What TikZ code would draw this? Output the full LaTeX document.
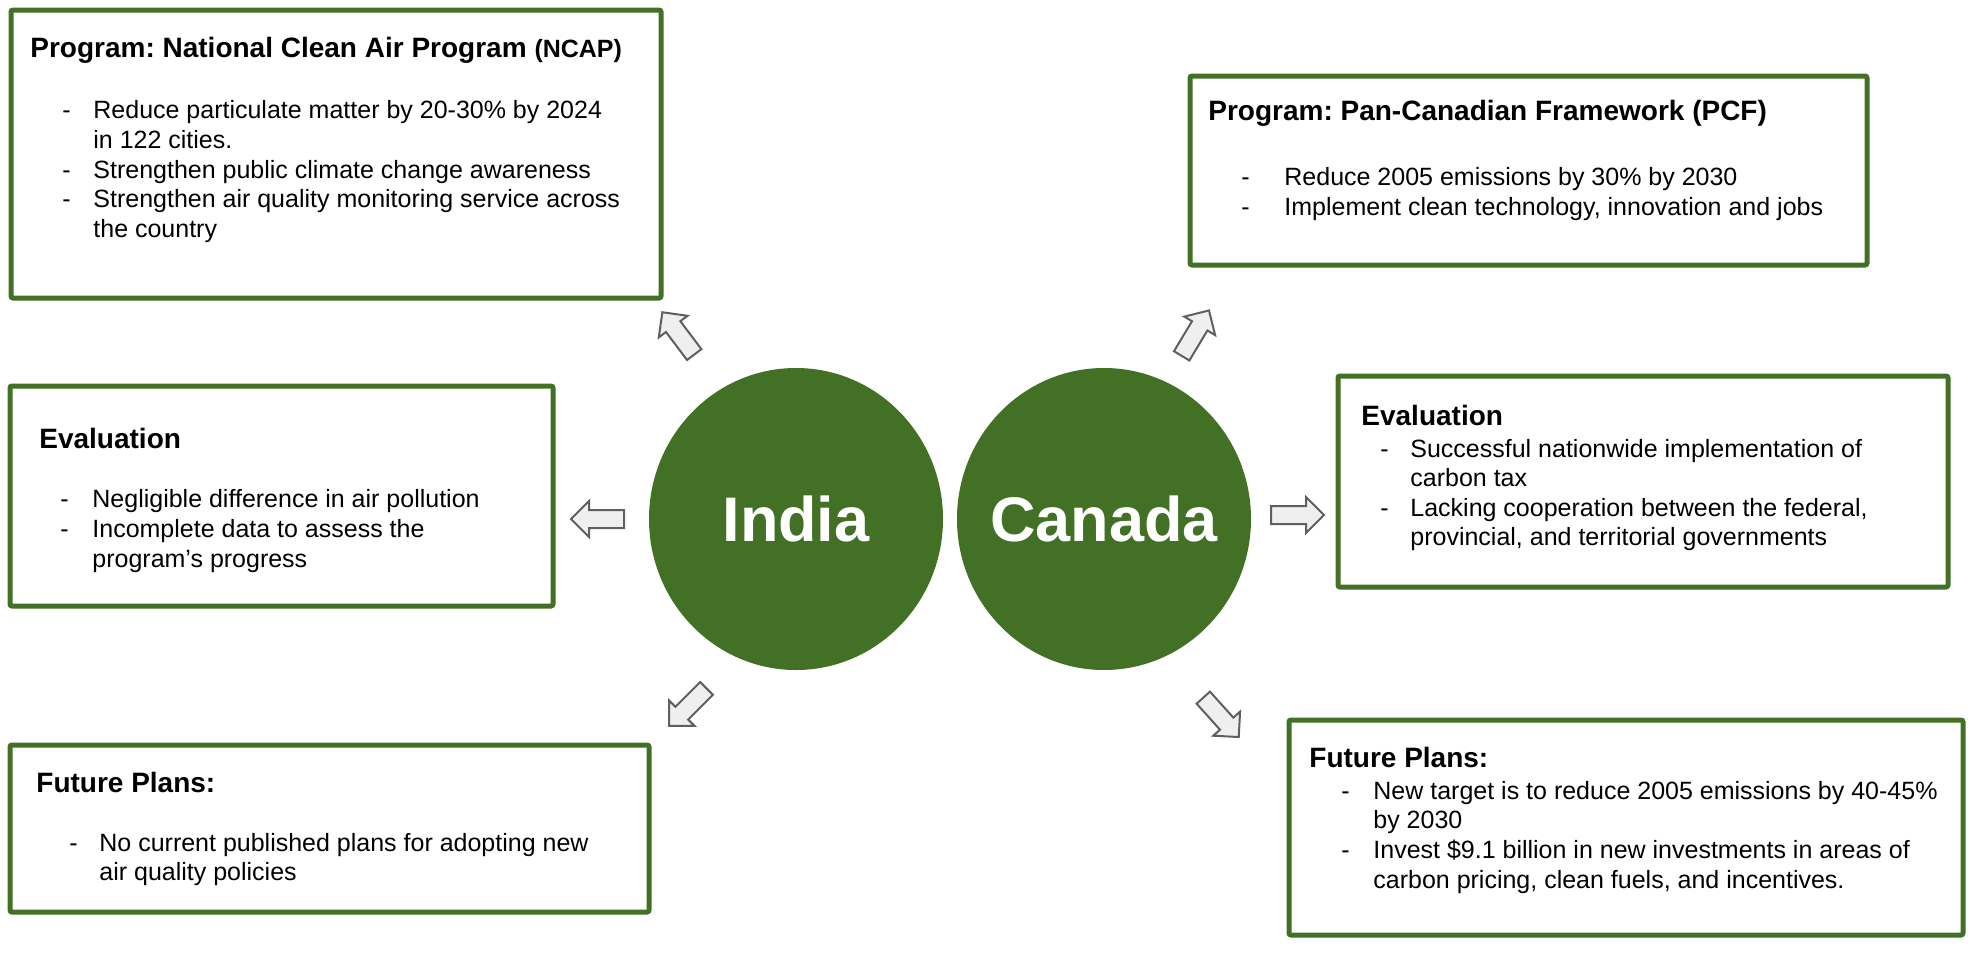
\documentclass[tikz,border=0pt]{standalone}
\usepackage{fontspec}
\setmainfont{Liberation Sans}
\usetikzlibrary{shapes.geometric,shapes.arrows,fit}
\definecolor{dkgreen}{RGB}{66,112,36}
\definecolor{arrfill}{RGB}{239,239,239}
\definecolor{arrline}{RGB}{95,95,95}
\frenchspacing
\begin{document}
\begin{tikzpicture}[x=0.5pt,y=-0.5pt,
 box/.style={draw=dkgreen, line width=2.5pt, rounded corners=1pt, inner sep=0pt},
 country/.style={ellipse, fill=dkgreen, minimum width=147pt, minimum height=151pt, inner sep=0pt},
 countryname/.style={text=white, inner sep=0pt, font=\fontsize{31.5}{36}\selectfont\bfseries},
 blockarrow/.style={single arrow, draw=arrline, fill=arrfill, line width=1pt, minimum height=26.5pt, minimum width=17pt, single arrow head extend=4.5pt, inner xsep=0pt, inner ysep=4pt, text height=0pt, text depth=0pt},
 ttl/.style={anchor=base west, inner sep=0pt, font=\fontsize{14}{17}\selectfont\bfseries},
 txt/.style={anchor=base west, inner sep=0pt, font=\fontsize{12.5}{15}\selectfont},
]
\useasboundingbox (0,0) rectangle (1978,954);

% boxes
\coordinate (p1a) at (11,10);   \coordinate (p1b) at (661,298);
\coordinate (p2a) at (1190,76); \coordinate (p2b) at (1867,265);
\coordinate (p3a) at (10,386);  \coordinate (p3b) at (553,606);
\coordinate (p4a) at (1338,376);\coordinate (p4b) at (1948,587);
\coordinate (p5a) at (10,745);  \coordinate (p5b) at (649,912);
\coordinate (p6a) at (1289,720);\coordinate (p6b) at (1963,935);
\node[box, fit=(p1a)(p1b)] (b1) {};
\node[box, fit=(p2a)(p2b)] (b2) {};
\node[box, fit=(p3a)(p3b)] (b3) {};
\node[box, fit=(p4a)(p4b)] (b4) {};
\node[box, fit=(p5a)(p5b)] (b5) {};
\node[box, fit=(p6a)(p6b)] (b6) {};

% circles
\node[country] (india) at (796,519) {};
\node[countryname] (indiat) at (india.center) {India};
\node[country] (canada) at (1104,519) {};
\node[countryname] (canadat) at (canada.center) {Canada};

% block arrows
\node[blockarrow, rotate=127] (a1) at (681,337) {};
\node[blockarrow, rotate=180] (a2) at (602,519) {};
\node[blockarrow, rotate=225] (a3) at (691,704) {};
\node[blockarrow, rotate=59]  (a4) at (1193,337) {};
\node[blockarrow, rotate=0]   (a5) at (1293,515) {};
\node[blockarrow, rotate=-48] (a6) at (1218,714) {};

% box 1 text
\node[ttl] (t1) at (30,57) {Program: National Clean Air Program {\fontsize{12.5}{15}\selectfont (NCAP)}};
\node[txt] (d1a) at (62,118) {-};
\node[txt] (l1a) at (93,118) {Reduce particulate matter by 20-30\% by 2024};
\node[txt] (l1b) at (93,148) {in 122 cities.};
\node[txt] (d1c) at (62,178) {-};
\node[txt] (l1c) at (93,178) {Strengthen public climate change awareness};
\node[txt] (d1d) at (62,207) {-};
\node[txt] (l1d) at (93,207) {Strengthen air quality monitoring service across};
\node[txt] (l1e) at (93,237) {the country};

% box 2 text
\node[ttl] (t2) at (1208,120) {Program: Pan-Canadian Framework (PCF)};
\node[txt] (d2a) at (1241,185) {-};
\node[txt] (l2a) at (1284,185) {Reduce 2005 emissions by 30\% by 2030};
\node[txt] (d2b) at (1241,215) {-};
\node[txt] (l2b) at (1284,215) {Implement clean technology, innovation and jobs};

% box 3 text
\node[ttl] (t3) at (39,448) {Evaluation};
\node[txt] (d3a) at (60,507) {-};
\node[txt] (l3a) at (92,507) {Negligible difference in air pollution};
\node[txt] (d3b) at (60,537) {-};
\node[txt] (l3b) at (92,537) {Incomplete data to assess the};
\node[txt] (l3c) at (92,567) {program’s progress};

% box 4 text
\node[ttl] (t4) at (1361,425) {Evaluation};
\node[txt] (d4a) at (1380,457) {-};
\node[txt] (l4a) at (1410,457) {Successful nationwide implementation of};
\node[txt] (l4b) at (1410,486) {carbon tax};
\node[txt] (d4c) at (1380,516) {-};
\node[txt] (l4c) at (1410,516) {Lacking cooperation between the federal,};
\node[txt] (l4d) at (1410,545) {provincial, and territorial governments};

% box 5 text
\node[ttl] (t5) at (36,792) {Future Plans:};
\node[txt] (d5a) at (69,851) {-};
\node[txt] (l5a) at (99,851) {No current published plans for adopting new};
\node[txt] (l5b) at (99,880) {air quality policies};

% box 6 text
\node[ttl] (t6) at (1309,767) {Future Plans:};
\node[txt] (d6a) at (1341,799) {-};
\node[txt] (l6a) at (1373,799) {New target is to reduce 2005 emissions by 40-45\%};
\node[txt] (l6b) at (1373,828) {by 2030};
\node[txt] (d6c) at (1341,858) {-};
\node[txt] (l6c) at (1373,858) {Invest \$9.1 billion in new investments in areas of};
\node[txt] (l6d) at (1373,888) {carbon pricing, clean fuels, and incentives.};
\end{tikzpicture}
\end{document}
